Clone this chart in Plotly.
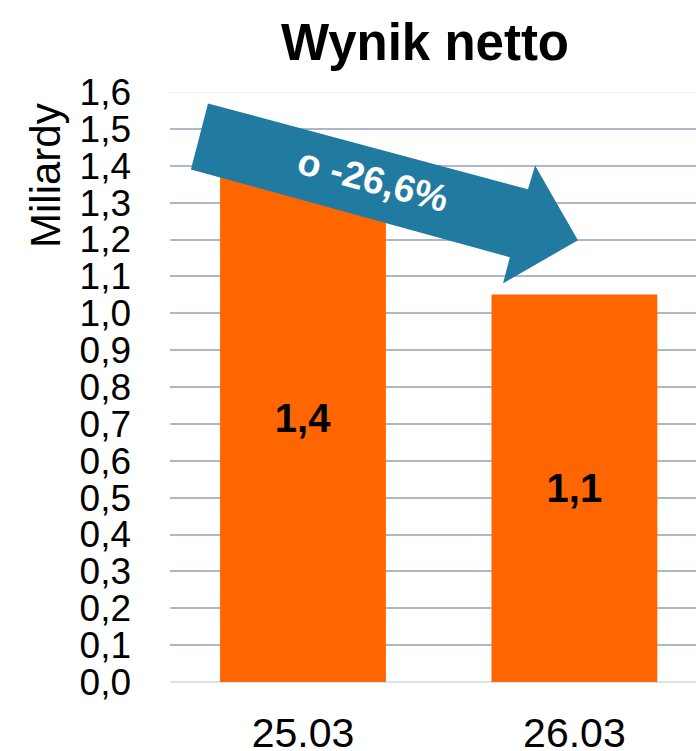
import plotly.graph_objects as go

categories = ["25.03", "26.03"]
values = [1.432, 1.051]
value_labels = ["1,4", "1,1"]
tick_vals = [i / 10 for i in range(17)]
tick_text = [f"{v:.1f}".replace(".", ",") for v in tick_vals]
change_label = "o -26,6%"
title_text = "Wynik netto"
y_title = "Miliardy"

FONT = "Liberation Sans, Arial, sans-serif"
ORANGE = "#FF6600"
BLUE = "#217AA0"
GRID = "#AEB7CA"

x_pos = list(range(len(categories)))

fig = go.Figure()
fig.add_trace(go.Bar(
    x=x_pos, y=values, width=0.611,
    marker=dict(color=ORANGE, line=dict(width=0)),
    text=value_labels, textposition="inside", insidetextanchor="middle",
    textangle=0,
    textfont=dict(family=FONT, size=40, color="black", weight="bold"),
    hoverinfo="skip",
))

# arrow (data coordinates: category index, value)
arrow = [(-0.350, 1.569), (0.829, 1.336), (0.855, 1.401), (1.013, 1.198),
         (0.737, 1.081), (0.762, 1.152), (-0.413, 1.390)]
path = "M " + " L ".join(f"{x},{y}" for x, y in arrow) + " Z"
fig.add_shape(type="path", path=path, xref="x", yref="y",
              fillcolor=BLUE, line=dict(width=0), layer="above")

fig.add_annotation(x=0.258, y=1.361, xref="x", yref="y", text=change_label,
                   showarrow=False, textangle=15,
                   font=dict(family=FONT, size=38, color="white", weight="bold"))

# faint top border line
fig.add_shape(type="line", xref="paper", yref="y", x0=0, x1=1, y0=1.6, y1=1.6,
              line=dict(color="#EDF0F4", width=2), layer="below")

fig.add_annotation(x=-0.238, y=0.859, xref="paper", yref="paper", text=y_title,
                   xanchor="center", yanchor="middle",
                   showarrow=False, textangle=-90,
                   font=dict(family=FONT, size=42, color="black"))

fig.update_layout(
    width=696, height=751,
    margin=dict(l=170, r=0, t=92, b=69, autoexpand=False),
    paper_bgcolor="white", plot_bgcolor="white",
    showlegend=False,
    title=dict(text=title_text, x=425 / 696, xanchor="center",
               y=1 - 42 / 751, yanchor="middle", yref="container",
               font=dict(family=FONT, size=51, color="black", weight="bold")),
    xaxis=dict(range=[-0.490, 1.448], tickvals=x_pos, ticktext=categories,
               showgrid=False, zeroline=False, showline=False, ticks="",
               ticklabelstandoff=23, automargin=False,
               tickfont=dict(family=FONT, size=41, color="black")),
    yaxis=dict(range=[0, 1.6], tickvals=tick_vals, ticktext=tick_text,
               showgrid=True, gridcolor=GRID, gridwidth=2,
               zeroline=True, zerolinecolor="#DDE2EA", zerolinewidth=2,
               showline=False, ticks="", ticklabelstandoff=38, automargin=False,
               tickfont=dict(family=FONT, size=37, color="black")),
)

fig.write_html("out.html", config={"displayModeBar": False},
               post_script="document.body.style.margin='0';document.body.style.overflow='hidden';")
